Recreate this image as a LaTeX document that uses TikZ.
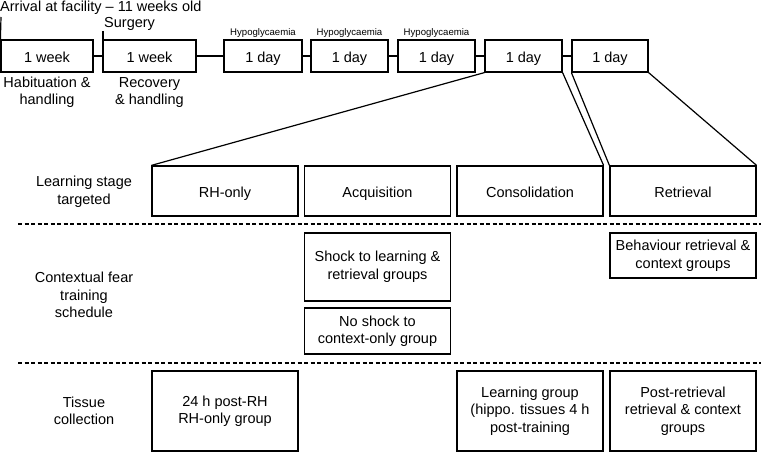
\documentclass[tikz,border=0pt]{standalone}
\usepackage{fontspec}
\setmainfont{Liberation Sans}
\begin{document}
\begin{tikzpicture}[x=1pt,y=-1pt,
  box/.style={draw, line width=1.2pt, inner sep=0pt, align=center, font=\fontsize{14.5}{17.5}\selectfont},
  one/.style={text height=12.8pt, text depth=0pt},
  lbl/.style={inner sep=0pt, align=center, font=\fontsize{14.5}{17.5}\selectfont},
  small/.style={inner sep=0pt, font=\fontsize{9.6}{11}\selectfont},
  conn/.style={line width=1.2pt},
  sep/.style={line width=1.2pt, dash pattern=on 4pt off 2.5pt}]
\useasboundingbox (0,0) rectangle (761,452);

% top timeline
\tikzset{tbox/.style={box, one, minimum height=32pt}}
\node[tbox, minimum width=92pt] (b1) at (47,56) {1 week};
\node[tbox, minimum width=93pt] (b2) at (149.5,56) {1 week};
\node[tbox, minimum width=78pt] (b3) at (263,56) {1 day};
\node[tbox, minimum width=77pt] (b4) at (349.5,56) {1 day};
\node[tbox, minimum width=77pt] (b5) at (436.5,56) {1 day};
\node[tbox, minimum width=77pt] (b6) at (523.5,56) {1 day};
\node[tbox, minimum width=76pt] (b7) at (610,56) {1 day};

\draw[conn] (b1.east) -- (b2.west);
\draw[conn] (b2.east) -- (b3.west);
\draw[conn] (b3.east) -- (b4.west);
\draw[conn] (b4.east) -- (b5.west);
\draw[conn] (b5.east) -- (b6.west);
\draw[conn] (b6.east) -- (b7.west);

\coordinate (t1) at (1,17);
\coordinate (t2) at (103,31);
\draw[conn] (t1) -- (b1.north west);
\draw[conn] (t2) -- (t2 |- b2.north);

\node[lbl, anchor=base west] (arr) at (0,12) {Arrival at facility -- 11 weeks old};
\node[lbl, anchor=base west] (sur) at (104,28) {Surgery};
\node[small, anchor=base] (h3) at (263,36) {Hypoglycaemia};
\node[small, anchor=base] (h4) at (349.5,36) {Hypoglycaemia};
\node[small, anchor=base] (h5) at (436.5,36) {Hypoglycaemia};
\node[lbl, anchor=north, font=\fontsize{14.5}{17}\selectfont] (hab) at (47,77) {Habituation \&\\handling};
\node[lbl, anchor=north, font=\fontsize{14.5}{17}\selectfont] (rec) at (149.5,77) {Recovery\\\& handling};

% stage row
\tikzset{sbox/.style={box, minimum width=146pt}}
\node[sbox, one, minimum height=50pt] (rh) at (225,191) {RH-only};
\node[sbox, one, minimum height=50pt] (acq) at (377.5,191) {Acquisition};
\node[sbox, one, minimum height=50pt] (con) at (530,191) {Consolidation};
\node[sbox, one, minimum height=50pt] (ret) at (683,191) {Retrieval};

\draw[conn] (b6.south west) -- (rh.north west);
\draw[conn] (b6.south east) -- (con.north east);
\draw[conn] (b7.south west) -- (ret.north west);
\draw[conn] (b7.south east) -- (ret.north east);

% separators
\coordinate (s1a) at (18,224);
\coordinate (s1b) at (761,224);
\coordinate (s2a) at (18,363);
\coordinate (s2b) at (761,363);
\draw[sep] (s1a) -- (s1b);
\draw[sep] (s2a) -- (s2b);

% fear training row
\node[sbox, minimum height=68pt] (shock) at (377.5,267) {Shock to learning \&\\retrieval groups};
\node[sbox, minimum height=46pt] (noshock) at (377.5,331) {No shock to\\context-only group};
\node[sbox, minimum height=45pt] (beh) at (683,255.5) {Behaviour retrieval \&\\context groups};

% tissue row
\node[sbox, minimum height=80pt] (t24) at (225,411) {24 h post-RH\\RH-only group};
\node[sbox, minimum height=80pt] (tlg) at (530,411) {Learning group\\(hippo. tissues 4 h\\post-training};
\node[sbox, minimum height=80pt] (tpr) at (683,411) {Post-retrieval\\retrieval \& context\\groups};

% row labels
\node[lbl] (l1) at (84,192) {Learning stage\\targeted};
\node[lbl] (l2) at (84,295) {Contextual fear\\training\\schedule};
\node[lbl] (l3) at (84,411) {Tissue\\collection};
\end{tikzpicture}
\end{document}
